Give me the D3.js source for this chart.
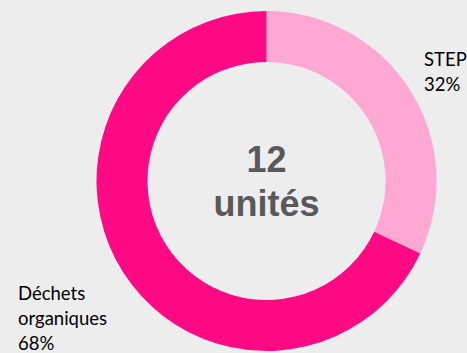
<!DOCTYPE html>
<html>
<head>
<meta charset="utf-8">
<script src="https://cdn.jsdelivr.net/npm/d3@7"></script>
<style>
  html, body { margin: 0; padding: 0; background: #ededed; }
  svg { display: block; }
</style>
</head>
<body>
<div id="chart"></div>
<script>
// Share of units by feedstock type
const categories = ["STEP", "Déchets organiques"];
const shares = [32, 68];
const labelLines = [["STEP", "32%"], ["Déchets", "organiques", "68%"]];
const colors = ["#ffa8d3", "#fe0a84"];
const centerLines = ["12", "unités"];

const width = 467, height = 353;
const cx = 266.5, cy = 181, outerR = 170, innerR = 119;

const svg = d3.select("#chart").append("svg")
  .attr("width", width).attr("height", height);

svg.append("rect").attr("width", width).attr("height", height).attr("fill", "#ededed");

const pie = d3.pie().sort(null).value(d => d)(shares);
const arc = d3.arc().innerRadius(innerR).outerRadius(outerR);

const g = svg.append("g").attr("transform", `translate(${cx},${cy})`);
g.selectAll("path").data(pie).join("path")
  .attr("d", arc)
  .attr("fill", (d, i) => colors[i]);

// Center caption
svg.append("text")
  .attr("x", cx).attr("y", cy)
  .attr("text-anchor", "middle")
  .attr("font-family", "Liberation Sans, Arial, sans-serif")
  .attr("font-weight", "bold")
  .attr("font-size", 36)
  .attr("fill", "#595959")
  .selectAll("tspan").data(centerLines).join("tspan")
  .attr("x", cx)
  .attr("y", (d, i) => 172 + i * 44)
  .text(d => d);

// Slice labels
const labelPos = [[424, 66], [18, 300]];
labelLines.forEach((lines, k) => {
  svg.append("text")
    .attr("font-family", "Lato, 'Open Sans', sans-serif")
    .attr("font-size", 18.5)
    .attr("fill", "#000")
    .selectAll("tspan").data(lines).join("tspan")
    .attr("x", labelPos[k][0])
    .attr("y", (d, i) => labelPos[k][1] + i * 25)
    .text(d => d);
});
</script>
</body>
</html>
